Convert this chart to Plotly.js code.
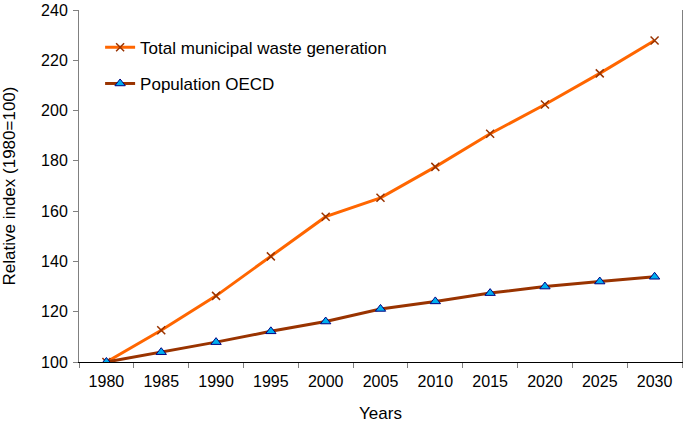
<!DOCTYPE html>
<html><head><meta charset="utf-8">
<script src="https://cdn.plot.ly/plotly-3.0.1.min.js"></script>
<style>html,body{margin:0;padding:0;background:#fff}#chart{width:685px;height:423px}</style>
</head><body><div id="chart"></div>
<script>
const years = ['1980','1985','1990','1995','2000','2005','2010','2015','2020','2025','2030'];
const wasteValues = [100, 112.6, 126.3, 142.0, 157.8, 165.3, 177.6, 190.8, 202.4, 214.8, 227.9];
const populationValues = [100, 103.9, 107.9, 112.2, 116.1, 121.1, 124.1, 127.4, 130.0, 132.0, 133.9];
const wasteName = 'Total municipal waste generation';
const popName = 'Population OECD';
const yTicks = [100,120,140,160,180,200,220,240];

const traces = [
  {x: years, y: wasteValues, name: wasteName, type: 'scatter', mode: 'lines+markers',
   line: {color: '#FF6600', width: 3},
   marker: {symbol: 'x-thin', size: 8, line: {color: '#993300', width: 1.5}, color: '#993300'},
   legend: 'legend'},
  {x: years, y: populationValues, name: popName, type: 'scatter', mode: 'lines+markers',
   line: {color: '#993300', width: 3},
   marker: {symbol: 'triangle-up', size: 9, color: '#00B0F0', line: {color: '#000080', width: 1}},
   legend: 'legend2'}
];

const font = {family: 'Liberation Sans, Arial, sans-serif', color: '#000'};
const layout = {
  width: 685, height: 423,
  margin: {l: 79, r: 3, t: 10, b: 61},
  paper_bgcolor: '#fff', plot_bgcolor: '#fff',
  font: Object.assign({size: 16}, font),
  showlegend: true,
  xaxis: {
    type: 'category', range: [-0.5, 10.5],
    tickson: 'boundaries', ticks: 'outside', ticklen: 5, tickcolor: '#808080',
    showline: true, linecolor: '#000', linewidth: 1,
    showgrid: false, zeroline: false,
    ticklabelstandoff: 5,
    tickfont: Object.assign({size: 16}, font),
    title: {text: 'Years', font: Object.assign({size: 17}, font), standoff: 28}
  },
  yaxis: {
    range: [100, 240], tickvals: yTicks,
    ticks: 'outside', ticklen: 5, tickcolor: '#808080',
    showline: true, linecolor: '#808080', linewidth: 1, mirror: true,
    showgrid: false, zeroline: false,
    ticklabeloverflow: 'allow',
    ticklabelstandoff: 2,
    tickfont: Object.assign({size: 16}, font),
    title: {text: 'Relative index (1980=100)', font: Object.assign({size: 17}, font), standoff: 22}
  },
  legend: {x: 0.035, y: 0.893, xanchor: 'left', yanchor: 'middle', bgcolor: 'rgba(0,0,0,0)',
           font: Object.assign({size: 17}, font), itemwidth: 30},
  legend2: {x: 0.035, y: 0.790, xanchor: 'left', yanchor: 'middle', bgcolor: 'rgba(0,0,0,0)',
           font: Object.assign({size: 17}, font), itemwidth: 30}
};
Plotly.newPlot('chart', traces, layout, {displayModeBar: false, staticPlot: true});
</script></body></html>
